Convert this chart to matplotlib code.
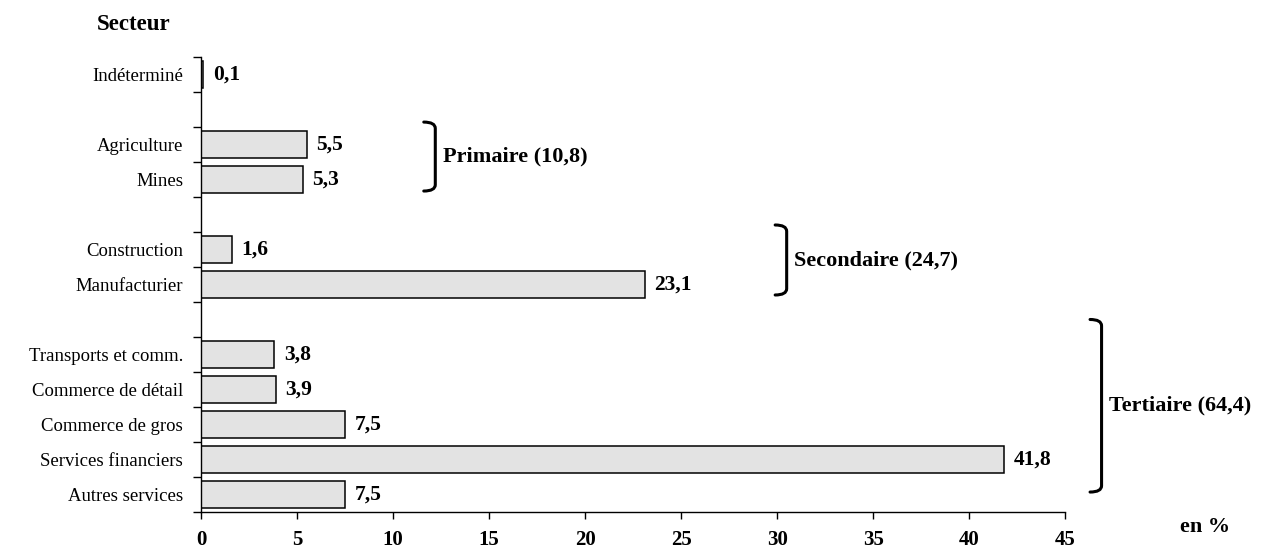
import matplotlib.pyplot as plt
from matplotlib.path import Path
from matplotlib.patches import PathPatch
import numpy as np

# sector shares, grouped; a blank row separates the groups
groups = [
    ["Indéterminé"],
    ["Agriculture", "Mines"],
    ["Construction", "Manufacturier"],
    ["Transports et comm.", "Commerce de détail", "Commerce de gros",
     "Services financiers", "Autres services"],
]
group_values = [
    [0.1],
    [5.5, 5.3],
    [1.6, 23.1],
    [3.8, 3.9, 7.5, 41.8, 7.5],
]
group_names = [None, "Primaire (10,8)", "Secondaire (24,7)", "Tertiaire (64,4)"]
x_ticks = [0, 5, 10, 15, 20, 25, 30, 35, 40, 45]

# brace placement: x in data units, vertical extent relative to first/last row
brace_x = [None, 12.2, 30.5, 46.9]
brace_pad = [None, (0.64, 0.33), (0.7, 0.3), (1.0, -0.07)]

plt.rcParams['font.family'] = ['Liberation Serif', 'DejaVu Serif']

fig = plt.figure(figsize=(12.66, 5.5), dpi=100)
ax = fig.add_axes([0.1588, 0.0691, 0.6825, 0.8273])

labels, values, pos, spans = [], [], [], []
row = 0
for names, vals in zip(groups, group_values):
    start = row
    for n, v in zip(names, vals):
        labels.append(n)
        values.append(v)
        pos.append(row)
        row += 1
    spans.append((start, row - 1))
    row += 1  # gap row
n_rows = row - 1

ax.barh(pos, values, height=0.75, color='#e3e3e3', edgecolor='black', linewidth=1.1)

for p, v in zip(pos, values):
    ax.annotate(f"{v:.1f}".replace('.', ','), (v, p), xytext=(7, 0),
                textcoords='offset points', va='center', ha='left',
                fontsize=15.5, fontweight='bold')

ax.set_ylim(n_rows - 0.5, -0.5)
ax.set_xlim(0, 45)
ax.set_yticks(pos)
ax.set_yticklabels(labels, fontsize=13.5)
ax.tick_params(axis='y', which='major', length=0, pad=13)
ax.set_yticks(np.arange(-0.5, n_rows, 1.0), minor=True)
ax.tick_params(axis='y', which='minor', length=6, width=1, direction='out')
ax.set_xticks(x_ticks)
ax.set_xticklabels([str(t) for t in x_ticks], fontsize=15, fontweight='bold')
ax.tick_params(axis='x', length=5, width=1, direction='out', pad=8)

for s in ['top', 'right']:
    ax.spines[s].set_visible(False)
for s in ['left', 'bottom']:
    ax.spines[s].set_linewidth(1)

# curly group brackets on the right
for name, bx, pad, (a, b) in zip(group_names, brace_x, brace_pad, spans):
    if name is None:
        continue
    top, bot = a - pad[0], b + pad[1]
    w, r = 0.6, 0.18
    verts = [(bx - w, top), (bx, top), (bx, top + r),
             (bx, bot - r),
             (bx, bot), (bx - w, bot)]
    codes = [Path.MOVETO, Path.CURVE3, Path.CURVE3,
             Path.LINETO, Path.CURVE3, Path.CURVE3]
    ax.add_patch(PathPatch(Path(verts, codes), fill=False, lw=2.2,
                           edgecolor='black', clip_on=False,
                           capstyle='round', joinstyle='round'))
    ax.text(bx + 0.4, (top + bot) / 2, name, ha='left', va='center',
            fontsize=16, fontweight='bold', clip_on=False)

fig.text(0.0766, 0.955, "Secteur", fontsize=16.5, fontweight='bold', va='center')
fig.text(0.932, 0.042, "en %", fontsize=16, fontweight='bold', va='center')

fig.savefig("out.png", dpi=100)
